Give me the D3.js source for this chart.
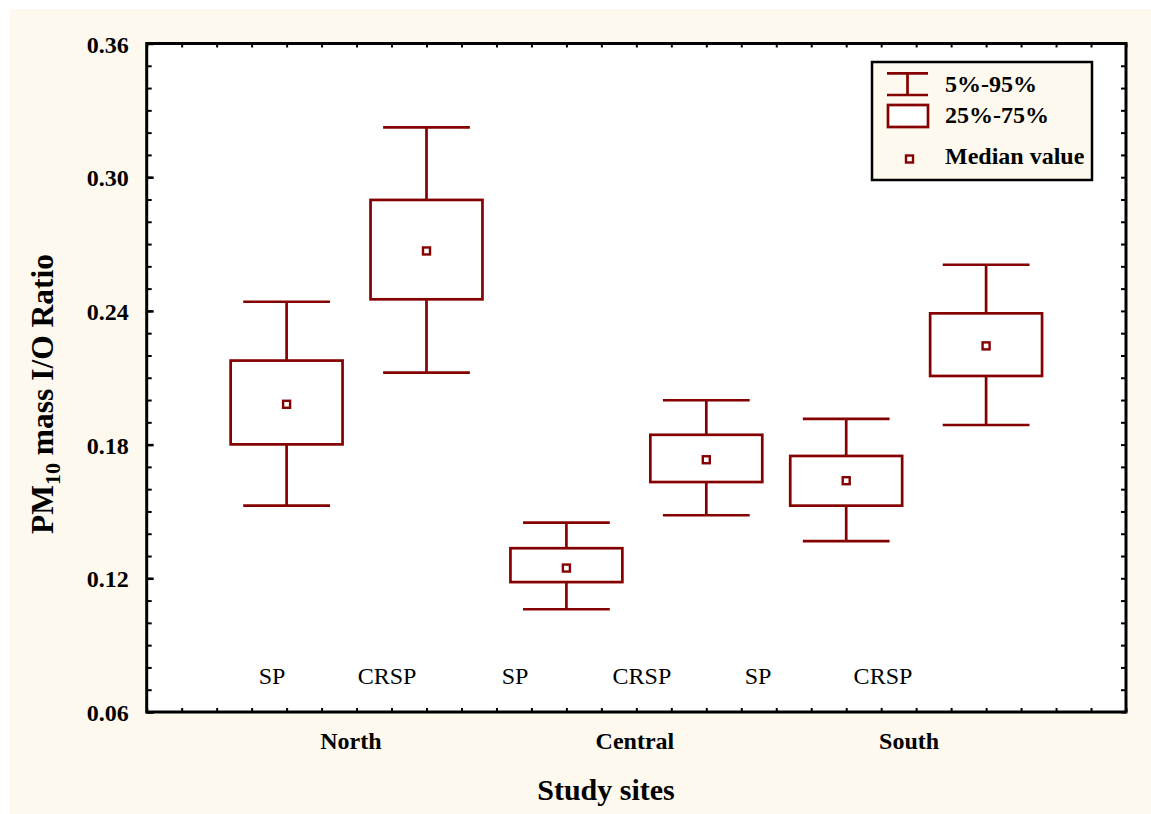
<!DOCTYPE html>
<html>
<head>
<meta charset="utf-8">
<script src="https://cdn.jsdelivr.net/npm/d3@7"></script>
<style>
  html, body { margin: 0; padding: 0; background: #fff; }
  svg { display: block; }
  text { font-family: "Liberation Serif", "Times New Roman", serif; fill: #000; }
</style>
</head>
<body>
<svg id="chart"></svg>
<script>
// groups along the x axis
const groups = ['North SP', 'North CRSP', 'Central SP', 'Central CRSP', 'South SP', 'South CRSP'];
const groupPos = [1, 2, 3, 4, 5, 6];

// percentiles of the I/O ratio
const p5  = [0.1526, 0.2123, 0.1061, 0.1483, 0.1367, 0.1888];
const p25 = [0.1801, 0.2452, 0.1183, 0.1632, 0.1526, 0.2108];
const med = [0.1981, 0.2669, 0.1246, 0.1732, 0.1638, 0.2243];
const p75 = [0.2177, 0.2898, 0.1335, 0.1844, 0.1749, 0.2389];
const p95 = [0.2441, 0.3224, 0.1450, 0.1999, 0.1915, 0.2607];

// text labels inside / under the plot
const typeLabels = ['SP', 'CRSP', 'SP', 'CRSP', 'SP', 'CRSP'];
const typeLabelPos = [0.896, 1.718, 2.633, 3.54, 4.37, 5.263];
const siteLabels = ['North', 'Central', 'South'];
const siteLabelPos = [1.46, 3.49, 5.45];

const yTicks = [0.06, 0.12, 0.18, 0.24, 0.30, 0.36];
const legendItems = ['5%-95%', '25%-75%', 'Median value'];

const W = 1151, H = 814;
const margin = { top: 43.5, right: 25, bottom: 102, left: 146.7 };
const width = W - margin.left - margin.right;
const height = H - margin.top - margin.bottom;
const red = '#850000';

const svg = d3.select('#chart').attr('width', W).attr('height', H);

// cream page background
svg.append('rect')
  .attr('x', 10).attr('y', 9).attr('width', W - 10).attr('height', H - 9)
  .attr('fill', '#fdf9ee');

const g = svg.append('g')
  .attr('transform', 'translate(' + margin.left + ',' + margin.top + ')');

g.append('rect').attr('width', width).attr('height', height).attr('fill', '#fff');

const x = d3.scaleLinear().domain([0, 7]).range([0, width]);
const y = d3.scaleLinear().domain([0.06, 0.36]).range([height, 0]);

const minorY = d3.range(6, 37).map(d => d / 100);
const minorX = d3.range(0, 29).map(d => d / 4);

// ticks pointing into the plot on every side
g.append('g')
  .call(d3.axisLeft(y).tickValues(minorY).tickSize(-5).tickFormat(''))
  .call(a => a.select('.domain').remove());
g.append('g')
  .attr('transform', 'translate(' + width + ',0)')
  .call(d3.axisRight(y).tickValues(minorY).tickSize(-5).tickFormat(''))
  .call(a => a.select('.domain').remove());
g.append('g')
  .attr('transform', 'translate(0,' + height + ')')
  .call(d3.axisBottom(x).tickValues(minorX).tickSize(-4).tickFormat(''))
  .call(a => a.select('.domain').remove());
g.append('g')
  .call(d3.axisTop(x).tickValues(minorX).tickSize(-4).tickFormat(''))
  .call(a => a.select('.domain').remove());
g.selectAll('.tick line').attr('stroke', '#000').attr('stroke-width', 2);

// major y labels
const yAxis = g.append('g')
  .call(d3.axisLeft(y).tickValues(yTicks).tickSize(-7).tickPadding(18).tickFormat(d3.format('.2f')));
yAxis.select('.domain').remove();
yAxis.selectAll('.tick line').attr('stroke', '#000').attr('stroke-width', 2.5);
yAxis.selectAll('.tick text')
  .attr('font-family', '"Liberation Serif", serif')
  .attr('font-size', 24).attr('font-weight', 'bold').attr('fill', '#000')
  .attr('dy', '0.36em');

// frame
g.append('rect').attr('width', width).attr('height', height)
  .attr('fill', 'none').attr('stroke', '#000').attr('stroke-width', 3);

// boxes
const boxW = 0.8, capW = 0.62;
const bw = x(boxW) - x(0), cw = x(capW) - x(0);
const data = groups.map((name, i) => ({
  name, pos: groupPos[i], p5: p5[i], p25: p25[i], med: med[i], p75: p75[i], p95: p95[i]
}));

const box = g.selectAll('.box').data(data).enter().append('g').attr('class', 'box');
box.append('line')
  .attr('x1', d => x(d.pos)).attr('x2', d => x(d.pos))
  .attr('y1', d => y(d.p95)).attr('y2', d => y(d.p75))
  .attr('stroke', red).attr('stroke-width', 2.7);
box.append('line')
  .attr('x1', d => x(d.pos)).attr('x2', d => x(d.pos))
  .attr('y1', d => y(d.p25)).attr('y2', d => y(d.p5))
  .attr('stroke', red).attr('stroke-width', 2.7);
box.selectAll('.cap').data(d => [[d.pos, d.p5], [d.pos, d.p95]]).enter().append('line')
  .attr('class', 'cap')
  .attr('x1', d => x(d[0]) - cw / 2).attr('x2', d => x(d[0]) + cw / 2)
  .attr('y1', d => y(d[1])).attr('y2', d => y(d[1]))
  .attr('stroke', red).attr('stroke-width', 2.7);
box.append('rect')
  .attr('x', d => x(d.pos) - bw / 2).attr('width', bw)
  .attr('y', d => y(d.p75)).attr('height', d => y(d.p25) - y(d.p75))
  .attr('fill', 'none').attr('stroke', red).attr('stroke-width', 2.7);
box.append('rect')
  .attr('x', d => x(d.pos) - 3.5).attr('y', d => y(d.med) - 3.5)
  .attr('width', 7).attr('height', 7)
  .attr('fill', '#fff').attr('stroke', red).attr('stroke-width', 2.4);

// SP / CRSP labels
g.selectAll('.type').data(typeLabels).enter().append('text')
  .attr('class', 'type')
  .attr('x', (d, i) => x(typeLabelPos[i]))
  .attr('y', 684.3 - margin.top)
  .attr('text-anchor', 'middle')
  .attr('font-size', 24)
  .text(d => d);

// site labels
g.selectAll('.site').data(siteLabels).enter().append('text')
  .attr('class', 'site')
  .attr('x', (d, i) => x(siteLabelPos[i]))
  .attr('y', height + 36.5)
  .attr('text-anchor', 'middle')
  .attr('font-size', 24).attr('font-weight', 'bold')
  .text(d => d);

// axis titles
svg.append('text')
  .attr('x', 606).attr('y', 800)
  .attr('text-anchor', 'middle')
  .attr('font-size', 30).attr('font-weight', 'bold')
  .text('Study sites');

const yt = svg.append('text')
  .attr('transform', 'translate(53,394) rotate(-90)')
  .attr('text-anchor', 'middle')
  .attr('font-size', 31.5).attr('font-weight', 'bold');
yt.append('tspan').text('PM');
yt.append('tspan').attr('font-size', 22).attr('dy', 7).text('10');
yt.append('tspan').attr('dy', -7).text(' mass I/O Ratio');

// legend
const lg = svg.append('g').attr('transform', 'translate(872,62)');
lg.append('rect').attr('width', 220).attr('height', 118)
  .attr('fill', '#fdf9ee').attr('stroke', '#000').attr('stroke-width', 2.5);
lg.append('line').attr('x1', 15).attr('x2', 56).attr('y1', 11.3).attr('y2', 11.3)
  .attr('stroke', red).attr('stroke-width', 2.7);
lg.append('line').attr('x1', 15).attr('x2', 56).attr('y1', 33).attr('y2', 33)
  .attr('stroke', red).attr('stroke-width', 2.7);
lg.append('line').attr('x1', 35.5).attr('x2', 35.5).attr('y1', 11.3).attr('y2', 33)
  .attr('stroke', red).attr('stroke-width', 2.7);
lg.append('rect').attr('x', 16).attr('y', 43).attr('width', 40).attr('height', 22)
  .attr('fill', '#fff').attr('stroke', red).attr('stroke-width', 2.7);
lg.append('rect').attr('x', 34).attr('y', 93.5).attr('width', 7).attr('height', 7)
  .attr('fill', '#fff').attr('stroke', red).attr('stroke-width', 2.4);
lg.selectAll('.lt').data(legendItems).enter().append('text')
  .attr('class', 'lt')
  .attr('x', 73)
  .attr('y', (d, i) => [29.7, 61, 102][i])
  .attr('font-size', 24).attr('font-weight', 'bold')
  .text(d => d);
</script>
</body>
</html>
